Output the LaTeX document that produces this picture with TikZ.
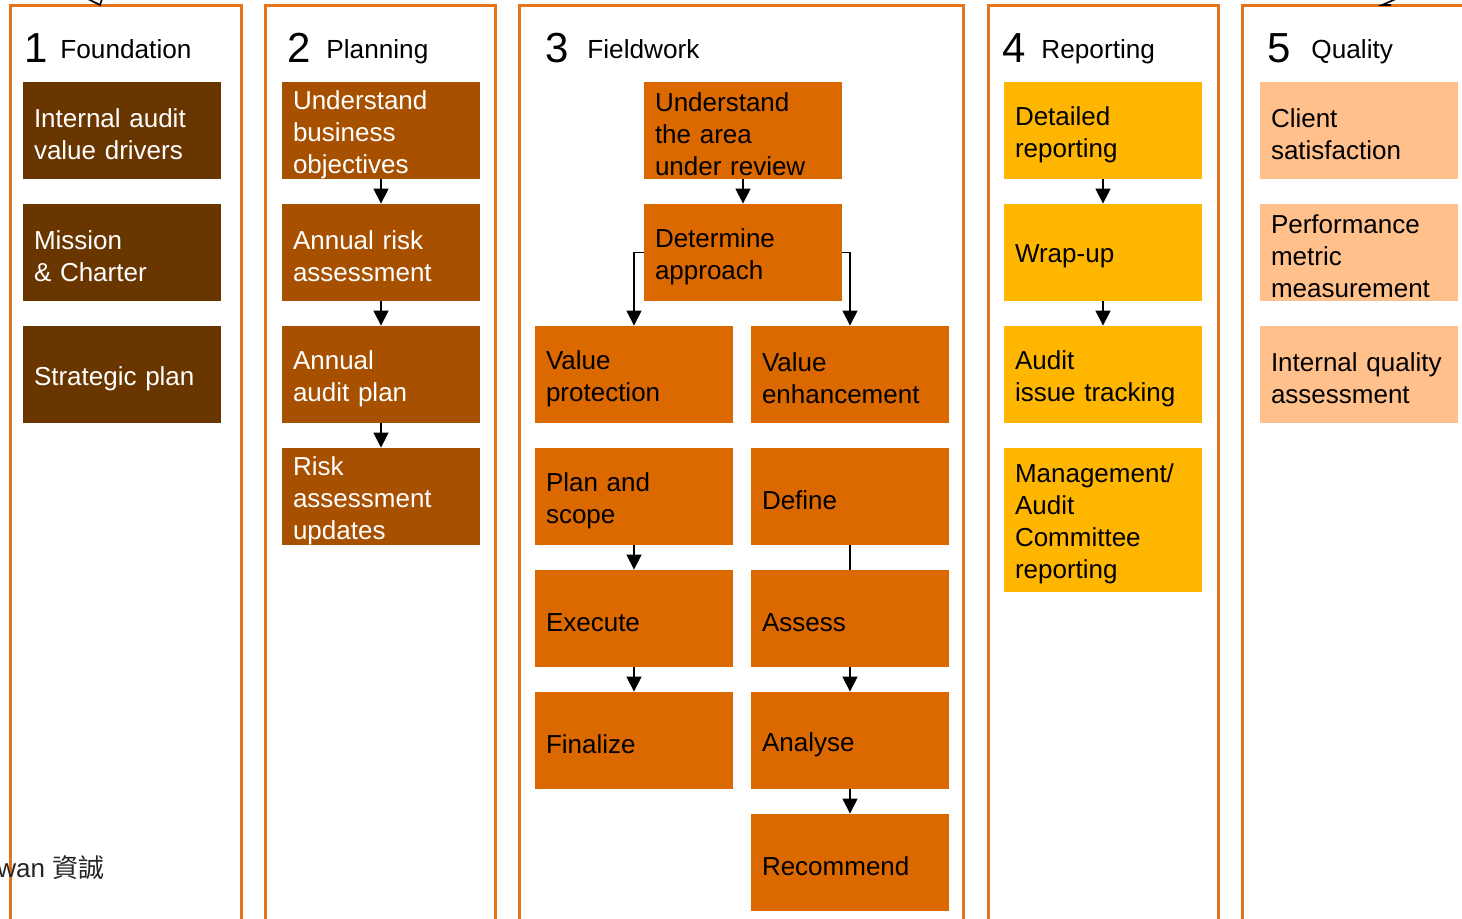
\documentclass[tikz,border=0pt]{standalone}
\usepackage{fontspec}
\setmainfont{Liberation Sans}
\newfontfamily\cjkfont{Noto Sans CJK TC}
\usetikzlibrary{arrows.meta}
\definecolor{panelc}{RGB}{230,116,24}
\definecolor{cone}{RGB}{105,54,0}
\definecolor{ctwo}{RGB}{166,80,0}
\definecolor{cthree}{RGB}{220,104,0}
\definecolor{cfour}{RGB}{255,182,0}
\definecolor{cfive}{RGB}{255,192,140}
\tikzset{
  panel/.style={draw=panelc, line width=1.5pt},
  boxbase/.style={rectangle, inner sep=0pt, minimum width=99pt, minimum height=48.5pt},
  boxtext/.style={inner sep=0pt, text width=88pt, align=left,
    font=\fontsize{13}{16}\selectfont, yshift=-2pt},
  bt/.style={label={[boxtext, text=#1]center:{\usebox0}}},
  bone/.style={boxbase, fill=cone},
  btwo/.style={boxbase, fill=ctwo},
  bthree/.style={boxbase, fill=cthree},
  bfour/.style={boxbase, fill=cfour},
  bfive/.style={boxbase, fill=cfive},
  num/.style={anchor=base west, inner sep=0pt, font=\fontsize{21}{21}\selectfont},
  head/.style={anchor=base west, inner sep=0pt, font=\fontsize{13.1}{16}\selectfont},
  arr/.style={line width=0.7pt, -{Triangle[width=7.5pt,length=7.5pt]}},
  plain/.style={line width=0.7pt}
}
\newcommand{\boxw}[5]{% style, name, x, y, text
  \node[#1] (#2) at (#3,#4) {};
  \node[boxtext] (#2t) at (#2.center) {#5};}
\newcommand{\boxb}[5]{% white text
  \node[#1] (#2) at (#3,#4) {};
  \node[boxtext, text=white] (#2t) at (#2.center) {#5};}
\begin{document}
\begin{tikzpicture}[x=0.5pt,y=-0.5pt]
\useasboundingbox (0,0) rectangle (1462,919);
\clip (0,0) rectangle (1462,919);
% panels
\draw[panel] (10,930) -- (10,6) -- (241,6) -- (241,930);
\draw[panel] (265,930) -- (265,6) -- (495,6) -- (495,930);
\draw[panel] (519,930) -- (519,6) -- (963,6) -- (963,930);
\draw[panel] (988,930) -- (988,6) -- (1218,6) -- (1218,930);
\draw[panel] (1242,930) -- (1242,6) -- (1475,6);
% fragments of outer arrows
\draw[line width=0.8pt] (88,-1) -- (100,5) -- (102,-1);
\draw[line width=0.8pt] (1396,-1) -- (1382,5) -- (1391,5);
% headers
\node[num] (n1) at (24,63) {1};
\node[head] (h1) at (60,59) {Foundation};
\node[num] (n2) at (287,63) {2};
\node[head] (h2) at (326,59) {Planning};
\node[num] (n3) at (545,63) {3};
\node[head] (h3) at (587,59) {Fieldwork};
\node[num] (n4) at (1002,63) {4};
\node[head] (h4) at (1041,59) {Reporting};
\node[num] (n5) at (1267,63) {5};
\node[head] (h5) at (1311,59) {Quality};
% column 1
\boxb{bone}{f1}{122}{130.5}{Internal audit\\value drivers}
\boxb{bone}{f2}{122}{252.5}{Mission\\\& Charter}
\boxb{bone}{f3}{122}{374.5}{Strategic plan}
% column 2
\boxb{btwo}{p1}{381}{130.5}{Understand\\business\\objectives}
\boxb{btwo}{p2}{381}{252.5}{Annual risk\\assessment}
\boxb{btwo}{p3}{381}{374.5}{Annual\\audit plan}
\boxb{btwo}{p4}{381}{496.5}{Risk\\assessment\\updates}
\draw[arr] (p1.south) -- (p2.north);
\draw[arr] (p2.south) -- (p3.north);
\draw[arr] (p3.south) -- (p4.north);
% column 3
\boxw{bthree}{w1}{743}{130.5}{Understand\\the area\\under review}
\boxw{bthree}{w2}{743}{252.5}{Determine\\approach}
\boxw{bthree}{vp}{634}{374.5}{Value\\protection}
\boxw{bthree}{ve}{850}{374.5}{Value\\enhancement}
\boxw{bthree}{ps}{634}{496.5}{Plan and\\scope}
\boxw{bthree}{ex}{634}{618.5}{Execute}
\boxw{bthree}{fi}{634}{740.5}{Finalize}
\boxw{bthree}{de}{850}{496.5}{Define}
\boxw{bthree}{as}{850}{618.5}{Assess}
\boxw{bthree}{an}{850}{740.5}{Analyse}
\boxw{bthree}{re}{850}{862.5}{Recommend}
\draw[arr] (w1.south) -- (w2.north);
\draw[arr] (w2.west) -| (vp.north);
\draw[arr] (w2.east) -| (ve.north);
\draw[arr] (ps.south) -- (ex.north);
\draw[arr] (ex.south) -- (fi.north);
\draw[plain] (de.south) -- (as.north);
\draw[arr] (as.south) -- (an.north);
\draw[arr] (an.south) -- (re.north);
% column 4
\boxw{bfour}{r1}{1103}{130.5}{Detailed\\reporting}
\boxw{bfour}{r2}{1103}{252.5}{Wrap-up}
\boxw{bfour}{r3}{1103}{374.5}{Audit\\issue tracking}
\boxw{bfour, minimum height=72pt}{r4}{1103}{520}{Management/\\Audit\\Committee\\reporting}
\draw[arr] (r1.south) -- (r2.north);
\draw[arr] (r2.south) -- (r3.north);
% column 5
\boxw{bfive}{q1}{1359}{130.5}{Client\\satisfaction}
\boxw{bfive}{q2}{1359}{252.5}{Performance\\metric\\measurement}
\boxw{bfive}{q3}{1359}{374.5}{Internal quality\\assessment}
% footer text
\node[anchor=base west, inner sep=0pt, text=black!85, font=\fontsize{13}{16}\selectfont] (foot) at (-3,877) {wan {\cjkfont 資誠}};
\end{tikzpicture}
\end{document}
